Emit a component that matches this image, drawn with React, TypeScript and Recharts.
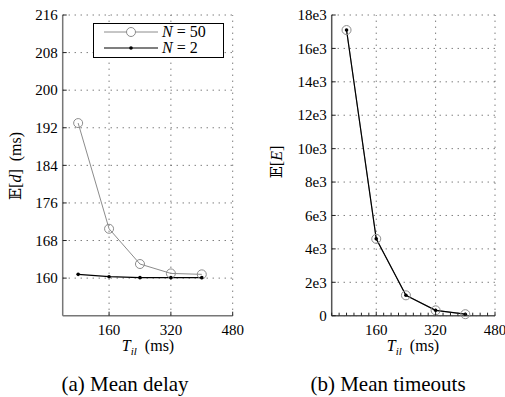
import React from "react";
import { LineChart, Line, XAxis, YAxis, CartesianGrid, ReferenceLine } from "recharts";

const tIl = [80, 160, 240, 320, 400];
const delayN50 = [193, 170.5, 163, 161, 160.8];
const delayN2 = [160.8, 160.3, 160.1, 160.1, 160.1];
const timeoutsN50 = [17100, 4600, 1220, 320, 90];
const timeoutsN2 = [17100, 4600, 1220, 320, 90];

const delayTicks = [160, 168, 176, 184, 192, 200, 208, 216];
const timeoutTicks = [0, 2000, 4000, 6000, 8000, 10000, 12000, 14000, 16000, 18000];
const xLabelTicks = [160, 320, 480];
const xMinorTicks = Array.from({ length: 23 }, (_, i) => 40 + i * 20);

const delayRows = tIl.map((t, i) => ({ t, n50: delayN50[i], n2: delayN2[i] }));
const timeoutRows = tIl.map((t, i) => ({ t, n50: timeoutsN50[i], n2: timeoutsN2[i] }));

const FONT = "Liberation Serif, Tinos, Times New Roman, Times, DejaVu Serif, serif";
const GRID = "#444";
const DASH = "1 5";

const makeXTick = (minor: boolean) => (props: any) => {
  const { x, y, payload } = props;
  const major = xLabelTicks.includes(payload.value);
  if (!major && !minor) return <g />;
  return (
    <g>
      <line x1={x} x2={x} y1={y} y2={y - (major ? 4 : 3)} stroke="#222" />
      {major && (
        <text x={x} y={y + 19} textAnchor="middle" fontFamily={FONT} fontSize={15} fill="#000">
          {payload.value}
        </text>
      )}
    </g>
  );
};

const makeYTick = (fmt: (v: number) => string) => (props: any) => {
  const { x, y, payload } = props;
  return (
    <g>
      <line x1={x} x2={x + 4} y1={y} y2={y} stroke="#222" />
      <text x={x - 5} y={y} dy="0.35em" textAnchor="end" fontFamily={FONT} fontSize={15} fill="#000">
        {fmt(payload.value)}
      </text>
    </g>
  );
};

const hollow = (color: string) => (props: any) => {
  const { cx, cy, index } = props;
  return <circle key={index} cx={cx} cy={cy} r={4.5} fill="none" stroke={color} strokeWidth={1} />;
};

const solid = (props: any) => {
  const { cx, cy, index } = props;
  return <circle key={index} cx={cx} cy={cy} r={1.8} fill="#000" />;
};

const label: React.CSSProperties = {
  position: "absolute",
  fontFamily: FONT,
  fontSize: 15,
  whiteSpace: "nowrap",
  color: "#000",
};

function XLabel({ cx }: { cx: number }) {
  return (
    <div style={{ ...label, left: cx, top: 337, fontSize: 16, transform: "translateX(-50%)" }}>
      <i>T</i>
      <sub style={{ fontSize: 11 }}>
        <i>il</i>
      </sub>
      &nbsp;&nbsp;(ms)
    </div>
  );
}

function YLabel({ cx, cy, children }: { cx: number; cy: number; children: React.ReactNode }) {
  return (
    <div
      style={{
        ...label,
        fontSize: 16,
        left: cx,
        top: cy,
        transform: "translate(-50%, -50%) rotate(-90deg)",
      }}
    >
      {children}
    </div>
  );
}

function Caption({ cx, text }: { cx: number; text: string }) {
  return (
    <div style={{ ...label, fontSize: 21, left: cx, top: 372, transform: "translateX(-50%)" }}>
      {text}
    </div>
  );
}

function DelayLegend() {
  return (
    <div
      style={{
        position: "absolute",
        left: 93,
        top: 23,
        width: 129,
        height: 33,
        border: "1px solid #000",
        background: "#fff",
      }}
    >
      <svg width={129} height={33} style={{ position: "absolute", left: 0, top: 0 }}>
        <line x1={10} x2={64} y1={8} y2={8} stroke="#8c8c8c" />
        <circle cx={37} cy={8} r={4.5} fill="#fff" stroke="#8c8c8c" />
        <line x1={10} x2={64} y1={24} y2={24} stroke="#000" strokeWidth={1.2} />
        <circle cx={37} cy={24} r={1.8} fill="#000" />
      </svg>
      <div style={{ ...label, left: 68, top: -1, fontSize: 16 }}>
        <i>N</i> = 50
      </div>
      <div style={{ ...label, left: 68, top: 15, fontSize: 16 }}>
        <i>N</i> = 2
      </div>
    </div>
  );
}

export default function App() {
  return (
    <div style={{ position: "absolute", left: 0, top: 0, width: 505, height: 397, background: "#fff" }}>
      <div style={{ position: "absolute", left: 0, top: 0 }}>
        <LineChart width={250} height={397} data={delayRows} margin={{ top: 15, right: 17.3, left: 0, bottom: 0 }}>
          <CartesianGrid vertical={false} stroke={GRID} strokeDasharray={DASH} horizontalValues={delayTicks} />
          <XAxis
            type="number"
            dataKey="t"
            domain={[40, 480]}
            ticks={xLabelTicks}
            height={81.3}
            tickSize={0}
            tickMargin={0}
            tick={makeXTick(false)}
            axisLine={{ stroke: "#777", strokeWidth: 1.5 }}
            tickLine={false}
            interval={0}
          />
          <YAxis
            type="number"
            domain={[152, 216]}
            ticks={delayTicks}
            width={62.7}
            tickSize={0}
            tickMargin={0}
            tick={makeYTick((v) => String(v))}
            axisLine={{ stroke: "#777", strokeWidth: 1.5 }}
            tickLine={false}
            interval={0}
          />
          {xLabelTicks.map((v) => (
            <ReferenceLine key={v} x={v} stroke={GRID} strokeDasharray={DASH} />
          ))}
          <Line
            dataKey="n50"
            stroke="#8c8c8c"
            strokeWidth={1}
            dot={hollow("#8c8c8c")}
            isAnimationActive={false}
          />
          <Line dataKey="n2" stroke="#000" strokeWidth={1.2} dot={solid} isAnimationActive={false} />
        </LineChart>
      </div>
      <div style={{ position: "absolute", left: 250, top: 0 }}>
        <LineChart width={255} height={397} data={timeoutRows} margin={{ top: 15, right: 10, left: 0, bottom: 0 }}>
          <CartesianGrid vertical={false} stroke={GRID} strokeDasharray={DASH} horizontalValues={timeoutTicks} />
          <XAxis
            type="number"
            dataKey="t"
            domain={[40, 480]}
            ticks={xMinorTicks}
            height={81.3}
            tickSize={0}
            tickMargin={0}
            tick={makeXTick(true)}
            axisLine={{ stroke: "#555", strokeWidth: 1.5 }}
            tickLine={false}
            interval={0}
          />
          <YAxis
            type="number"
            domain={[0, 18000]}
            ticks={timeoutTicks}
            width={81.7}
            tickSize={0}
            tickMargin={0}
            tick={makeYTick((v) => (v === 0 ? "0" : `${v / 1000}e3`))}
            axisLine={{ stroke: "#555", strokeWidth: 1.5 }}
            tickLine={false}
            interval={0}
          />
          {xLabelTicks.map((v) => (
            <ReferenceLine key={v} x={v} stroke={GRID} strokeDasharray={DASH} />
          ))}
          <Line
            dataKey="n50"
            stroke="#8c8c8c"
            strokeWidth={1}
            dot={hollow("#8c8c8c")}
            isAnimationActive={false}
          />
          <Line dataKey="n2" stroke="#000" strokeWidth={1.2} dot={solid} isAnimationActive={false} />
        </LineChart>
      </div>
      <DelayLegend />
      <YLabel cx={15} cy={166}>
        𝔼[<i>d</i>]&nbsp;&nbsp;(ms)
      </YLabel>
      <YLabel cx={276} cy={162}>
        𝔼[<i>E</i>]
      </YLabel>
      <XLabel cx={148} />
      <XLabel cx={413} />
      <Caption cx={125} text="(a)  Mean delay" />
      <Caption cx={388} text="(b)  Mean timeouts" />
    </div>
  );
}
